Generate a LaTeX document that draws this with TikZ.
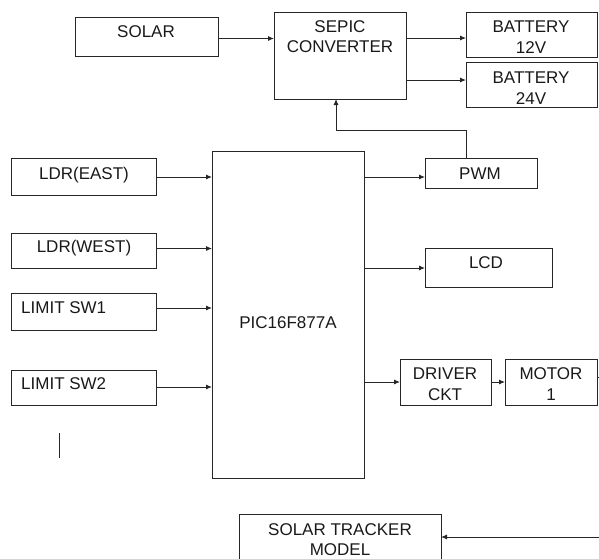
\documentclass[tikz,border=0pt]{standalone}
\usepackage{fontspec}
\setmainfont{Liberation Sans}
\usetikzlibrary{arrows.meta,calc}
\newcommand\bx[5]{\node[box, minimum width={(#4-#2)*1pt}, minimum height={(#5-#3)*1pt}] (#1) at ({(#2+#4)/2},{(#3+#5)/2}) {};}
\begin{document}
\begin{tikzpicture}[x=1pt,y=-1pt,
 box/.style={draw=black!85, line width=0.9pt, inner sep=0pt, outer sep=0pt},
 lbl/.style={font=\fontsize{17}{20}\selectfont, inner sep=0pt, anchor=base, text=black!90},
 lbll/.style={lbl, anchor=base west},
 arr/.style={draw=black!85, line width=0.9pt, -{Latex[length=6pt,width=5pt]}},
 ln/.style={draw=black!85, line width=0.9pt}]
\useasboundingbox (0,0) rectangle (599,558);
\clip (0,0) rectangle (599,558);
% boxes
\bx{solar}{75}{17}{218}{56}
\bx{sepic}{274}{12}{406}{99}
\bx{batA}{466}{12}{597}{57}
\bx{batB}{466}{62}{597}{107}
\bx{pwm}{425}{158}{537}{188}
\bx{pic}{212}{151}{364}{478}
\bx{ldre}{11}{158}{156}{195}
\bx{ldrw}{11}{233}{156}{268}
\bx{lcd}{425}{248}{552}{287}
\bx{limA}{11}{293}{156}{330}
\bx{limB}{11}{370}{156}{405}
\bx{drv}{400}{359}{491}{405}
\bx{mot}{505}{359}{597}{405}
\bx{trk}{239}{514}{441}{575}
% labels
\node[lbl] (t1) at (146,37) {SOLAR};
\node[lbl] (t2) at (340,32) {SEPIC};
\node[lbl] (t3) at (340,52.5) {CONVERTER};
\node[lbl] (t4) at (531,32) {BATTERY};
\node[lbl] (t5) at (531,53.5) {12V};
\node[lbl] (t6) at (531,83) {BATTERY};
\node[lbl] (t7) at (531,104) {24V};
\node[lbl] (t8) at (480,179) {PWM};
\node[lbl] (t9) at (84,179) {LDR(EAST)};
\node[lbl] (t10) at (84,252) {LDR(WEST)};
\node[lbl] (t11) at (486,268) {LCD};
\node[lbll] (t12) at (21,313) {LIMIT SW1};
\node[lbll] (t13) at (21,389) {LIMIT SW2};
\node[lbl] (t14) at (288,328) {PIC16F877A};
\node[lbl] (t15) at (445,379) {DRIVER};
\node[lbl] (t16) at (445,400) {CKT};
\node[lbl] (t17) at (551,379) {MOTOR};
\node[lbl] (t18) at (551,400) {1};
\node[lbl] (t19) at (340,535) {SOLAR TRACKER};
\node[lbl] (t20) at (340,555) {MODEL};
% connectors
\draw[arr] (solar.east |- 0,38.5) -- (sepic.west |- 0,38.5);
\draw[arr] (sepic.east |- 0,38) -- (batA.west |- 0,38);
\draw[arr] (sepic.east |- 0,80) -- (batB.west |- 0,80);
\coordinate (fbA) at (466,130);
\coordinate (fbB) at (336,130);
\draw[arr] (pwm.north -| fbA) -- (fbA) -- (fbB) -- (sepic.south -| fbB);
\draw[arr] (ldre.east |- 0,177) -- (pic.west |- 0,177);
\draw[arr] (pic.east |- 0,177) -- (pwm.west |- 0,177);
\draw[arr] (ldrw.east |- 0,248.5) -- (pic.west |- 0,248.5);
\draw[arr] (pic.east |- 0,268) -- (lcd.west |- 0,268);
\draw[arr] (limA.east |- 0,308) -- (pic.west |- 0,308);
\draw[arr] (limB.east |- 0,387) -- (pic.west |- 0,387);
\draw[arr] (pic.east |- 0,382) -- (drv.west |- 0,382);
\draw[arr] (drv.east |- 0,382) -- (mot.west |- 0,382);
\coordinate (mEnd) at (600,377);
\draw[ln] (mot.east |- mEnd) -- (mEnd);
\coordinate (tStart) at (600,537);
\draw[arr] (tStart) -- (trk.east |- tStart);
\coordinate (vA) at (59,433);
\coordinate (vB) at (59,458);
\draw[ln] (vA) -- (vB);
\end{tikzpicture}
\end{document}
